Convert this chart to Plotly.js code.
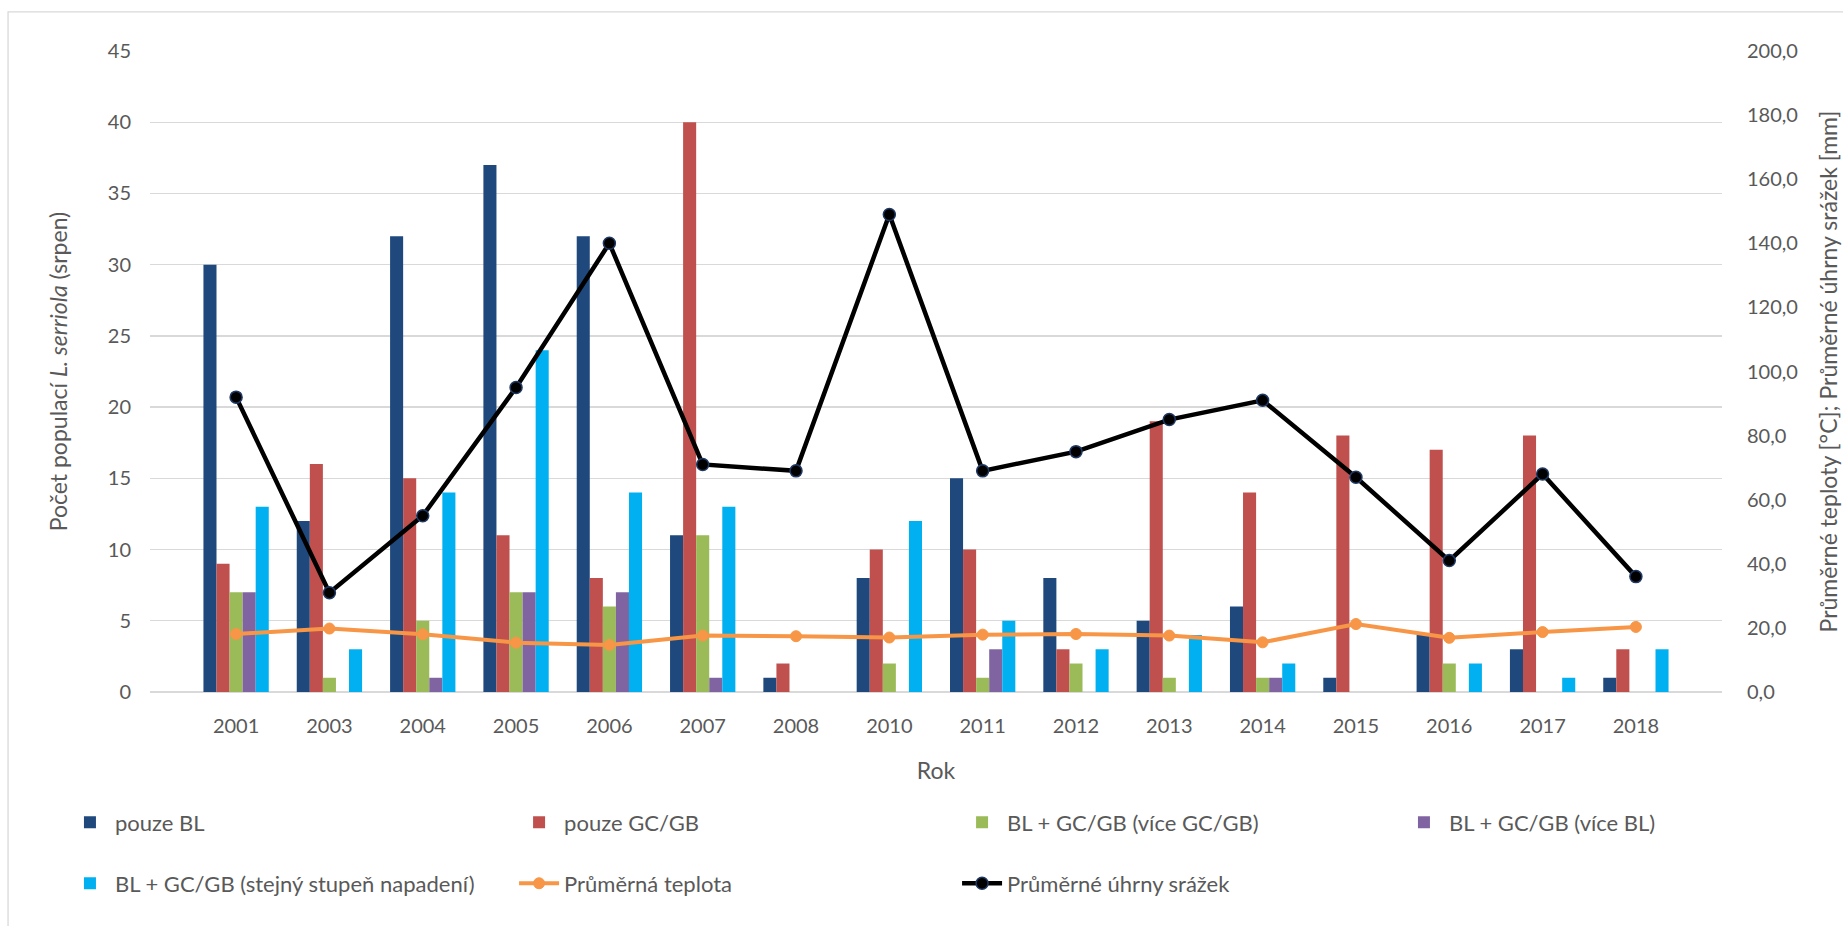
<!DOCTYPE html>
<html>
<head>
<meta charset="utf-8">
<script src="https://cdn.plot.ly/plotly-3.0.1.min.js"></script>
<style>html,body{margin:0;padding:0;background:#fff;}#chart{width:1843px;height:926px;}</style>
</head>
<body>
<div id="chart"></div>
<script>
const years = ["2001","2003","2004","2005","2006","2007","2008","2010","2011","2012","2013","2014","2015","2016","2017","2018"];
const pouzeBL = [30,12,32,37,32,11,1,8,15,8,5,6,1,4,3,1];
const pouzeGCGB = [9,16,15,11,8,40,2,10,10,3,19,14,18,17,18,3];
const viceGCGB = [7,1,5,7,6,11,0,2,1,2,1,1,0,2,0,0];
const viceBL = [7,0,1,7,7,1,0,0,3,0,0,1,0,0,0,0];
const stejny = [13,3,14,24,14,13,0,12,5,3,4,2,0,2,1,3];
const teplota = [18.1,19.8,18.0,15.4,14.7,17.6,17.4,17.0,17.9,18.1,17.6,15.5,21.2,16.9,18.7,20.3];
const srazky = [92,31,55,95,140,71,69,149,69,75,85,91,67,41,68,36];

const FONT = "Lato, 'Open Sans', sans-serif";
const TXT = "#595959";

function bar(name, vals, color, leg) {
  return {type:"bar", name:name, x:years, y:vals, marker:{color:color, line:{width:0}},
          yaxis:"y", legend:leg};
}

const traces = [
  bar("pouze BL", pouzeBL, "#1f497d", "legend"),
  bar("pouze GC/GB", pouzeGCGB, "#c0504d", "legend2"),
  bar("BL + GC/GB (více GC/GB)", viceGCGB, "#9bbb59", "legend3"),
  bar("BL + GC/GB (více BL)", viceBL, "#8064a2", "legend4"),
  bar("BL + GC/GB (stejný stupeň napadení)", stejny, "#00b0f0", "legend5"),
  {type:"scatter", mode:"lines+markers", name:"Průměrná teplota", x:years, y:teplota, yaxis:"y2",
   legend:"legend6",
   line:{color:"#f79646", width:4}, marker:{color:"#f79646", size:11, line:{color:"#f79646", width:1}}},
  {type:"scatter", mode:"lines+markers", name:"Průměrné úhrny srážek", x:years, y:srazky, yaxis:"y2",
   legend:"legend7",
   line:{color:"#000000", width:4.5}, marker:{color:"#000000", size:12, line:{color:"#1f3864", width:1.5}}}
];

function leg(x, y) {
  return {orientation:"v", x:x, xanchor:"left", y:y, yanchor:"top", itemwidth:40,
          bgcolor:"rgba(0,0,0,0)", borderwidth:0,
          font:{family:FONT, size:22, color:TXT}};
}
const ROW1 = -0.1708, ROW2 = -0.2659;

const layout = {
  width:1843, height:926,
  margin:{l:150, r:121, t:51, b:234},
  paper_bgcolor:"#ffffff", plot_bgcolor:"#ffffff",
  font:{family:FONT, size:20, color:TXT},
  separators:",.",
  barmode:"group", bargap:0.3, bargroupgap:0,
  showlegend:true,
  legend:leg(-0.0541, ROW1),
  legend2:leg(0.2316, ROW1),
  legend3:leg(0.5134, ROW1),
  legend4:leg(0.7945, ROW1),
  legend5:leg(-0.0541, ROW2),
  legend6:leg(0.2316, ROW2),
  legend7:leg(0.5134, ROW2),
  xaxis:{type:"category", showgrid:false, zeroline:false, showline:false, ticks:"",
         ticklabelstandoff:20, tickfont:{size:20, color:TXT},
         title:{text:"Rok", font:{size:23, color:TXT}, standoff:26}},
  yaxis:{range:[0,45], dtick:5, tick0:0, showgrid:true, gridcolor:"#d9d9d9", gridwidth:1.3,
         zeroline:true, zerolinecolor:"#d9d9d9", zerolinewidth:1.3, showline:false, ticks:"",
         ticklabelstandoff:18, tickfont:{size:20, color:TXT},
         title:{text:"Počet populací <i>L. serriola</i> (srpen)", font:{size:23, color:TXT}, standoff:33}},
  yaxis2:{range:[0,200], dtick:20, tick0:0, overlaying:"y", side:"right", showgrid:false,
          zeroline:false, showline:false, ticks:"", tickformat:".1f",
          ticklabelstandoff:24, tickfont:{size:20, color:TXT},
          title:{text:"Průměrné teploty [°C]; Průměrné úhrny srážek [mm]", font:{size:23, color:TXT}, standoff:23}},
  shapes:[{type:"rect", xref:"paper", yref:"paper", x0:-0.0903, x1:1.2, y0:-0.5, y1:1.061,
           line:{color:"#d9d9d9", width:1.3}, fillcolor:"rgba(0,0,0,0)", layer:"below"}]
};

Plotly.newPlot("chart", traces, layout, {displayModeBar:false, staticPlot:true});
</script>
</body>
</html>
